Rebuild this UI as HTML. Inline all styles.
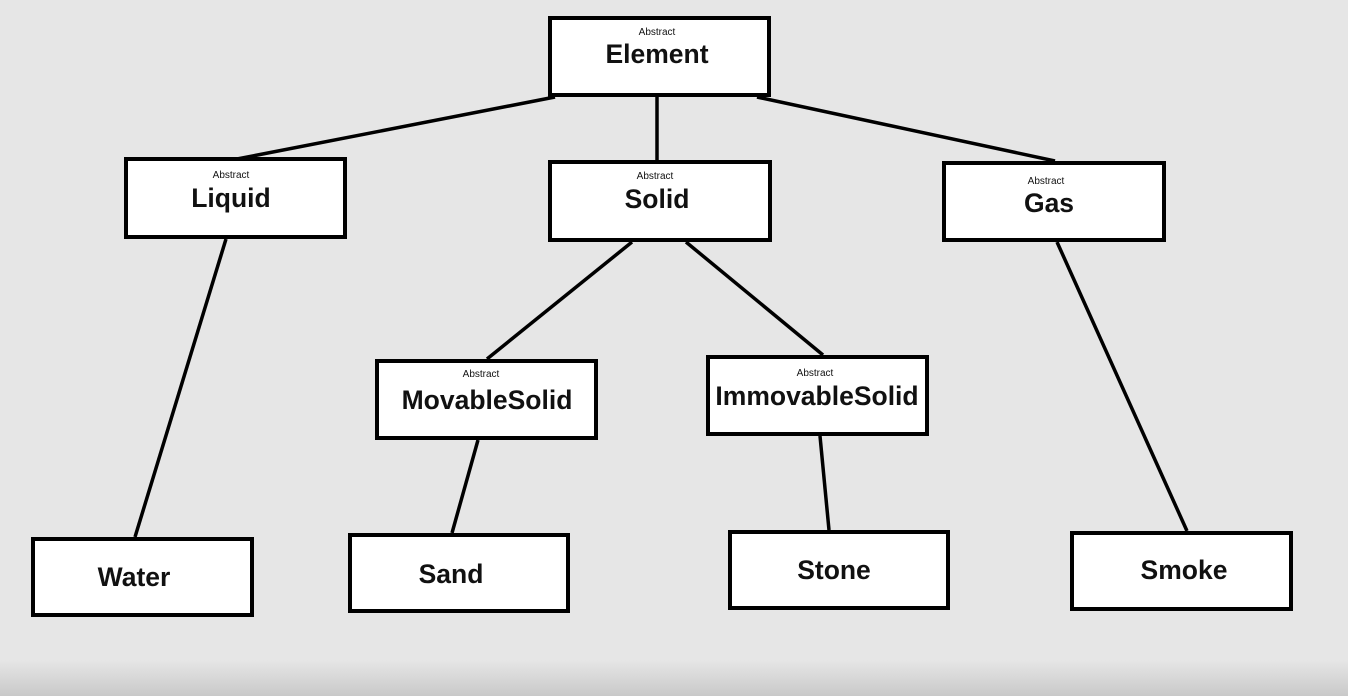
<!DOCTYPE html>
<html><head><style>
html,body{margin:0;padding:0;}
body{width:1348px;height:696px;overflow:hidden;background:linear-gradient(to bottom,#e6e6e6 0,#e6e6e6 660px,#c9c9c9 696px);}
svg{display:block;}
text{font-family:"Liberation Sans",sans-serif;fill:#111;text-anchor:middle;}
.a{font-size:10px;}
.n{font-size:26.5px;font-weight:bold;}
rect{fill:#fff;stroke:#000;stroke-width:4;}
line{stroke:#000;stroke-width:3.5;}
</style></head><body>
<svg width="1348" height="696">
<line x1="555" y1="97" x2="237" y2="159"/>
<line x1="657" y1="97" x2="657" y2="160"/>
<line x1="757" y1="97" x2="1055" y2="161"/>
<line x1="226" y1="239" x2="135" y2="537"/>
<line x1="632" y1="242" x2="487" y2="359"/>
<line x1="686" y1="242" x2="823" y2="355"/>
<line x1="1057" y1="242" x2="1187" y2="531"/>
<line x1="478" y1="440" x2="452" y2="533"/>
<line x1="820" y1="436" x2="829" y2="530"/>

<rect x="550" y="18" width="219" height="77"/>
<text class="a" x="657" y="35">Abstract</text><text class="n" x="657" y="63">Element</text>

<rect x="126" y="159" width="219" height="78"/>
<text class="a" x="231" y="178">Abstract</text><text class="n" x="231" y="207">Liquid</text>

<rect x="550" y="162" width="220" height="78"/>
<text class="a" x="655" y="179">Abstract</text><text class="n" x="657" y="208">Solid</text>

<rect x="944" y="163" width="220" height="77"/>
<text class="a" x="1046" y="184">Abstract</text><text class="n" x="1049" y="212">Gas</text>

<rect x="377" y="361" width="219" height="77"/>
<text class="a" x="481" y="377">Abstract</text><text class="n" x="487" y="409">MovableSolid</text>

<rect x="708" y="357" width="219" height="77"/>
<text class="a" x="815" y="376">Abstract</text><text class="n" x="817" y="405">ImmovableSolid</text>

<rect x="33" y="539" width="219" height="76"/>
<text class="n" x="134" y="586">Water</text>

<rect x="350" y="535" width="218" height="76"/>
<text class="n" x="451" y="583">Sand</text>

<rect x="730" y="532" width="218" height="76"/>
<text class="n" x="834" y="579">Stone</text>

<rect x="1072" y="533" width="219" height="76"/>
<text class="n" x="1184" y="579">Smoke</text>
</svg>
</body></html>
